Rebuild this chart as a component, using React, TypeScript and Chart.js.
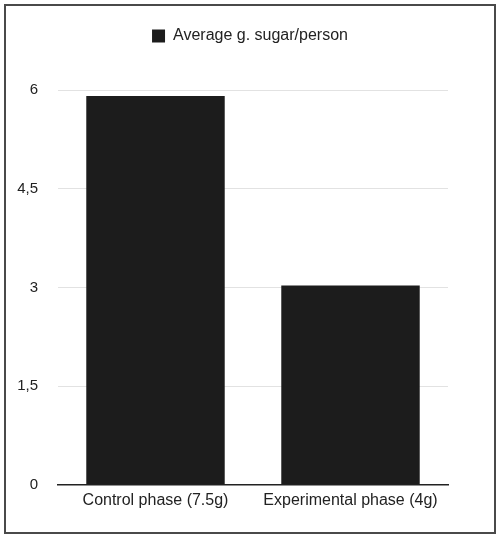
import React, { useEffect, useRef } from "react";
import { Chart, registerables } from "chart.js";

Chart.register(...registerables);

const categories = ["Control phase (7.5g)", "Experimental phase (4g)"];
const seriesLabel = "Average g. sugar/person";
const values = [5.91, 3.03];
const yTicks = [0, 1.5, 3, 4.5, 6];

const FONT = "'Liberation Sans', Arial, Helvetica, sans-serif";

export default function App() {
  const ref = useRef<HTMLCanvasElement | null>(null);

  useEffect(() => {
    if (!ref.current) return;
    const legendSpacer = {
      id: "legendSpacer",
      beforeInit(chart: any) {
        const orig = chart.legend.fit;
        chart.legend.fit = function () {
          orig.call(this);
          this.height += 36;
        };
      },
    };
    const chart = new Chart(ref.current, {
      type: "bar",
      data: {
        labels: categories,
        datasets: [
          {
            label: seriesLabel,
            data: values,
            backgroundColor: "#1c1c1c",
            borderWidth: 0,
            barPercentage: 0.71,
            categoryPercentage: 1,
          },
        ],
      },
      plugins: [legendSpacer],
      options: {
        animation: false,
        responsive: false,
        maintainAspectRatio: false,
        layout: { padding: { top: 14, right: 0, bottom: 16, left: 0 } },
        plugins: {
          tooltip: { enabled: false },
          legend: {
            position: "top",
            labels: {
              boxWidth: 13,
              boxHeight: 13,
              padding: 8,
              color: "#222",
              font: { family: FONT, size: 16 },
            },
          },
        },
        scales: {
          x: {
            grid: { display: false, drawTicks: false },
            border: { display: true, color: "#222", width: 1.5 },
            ticks: {
              color: "#222",
              padding: 6,
              font: { family: FONT, size: 16 },
              maxRotation: 0,
            },
          },
          y: {
            min: 0,
            max: 6,
            afterBuildTicks(scale: any) {
              scale.ticks = yTicks.map((v) => ({ value: v }));
            },
            afterFit(scale: any) {
              scale.width = 52;
            },
            grid: { color: "#e2e2e2", drawTicks: false, lineWidth: 1 },
            border: { display: false },
            ticks: {
              color: "#222",
              padding: 20,
              font: { family: FONT, size: 15 },
              callback: (v: any) => String(v).replace(".", ","),
            },
          },
          yRight: {
            position: "right",
            min: 0,
            max: 6,
            afterFit(scale: any) {
              scale.width = 46;
            },
            grid: { display: false, drawTicks: false },
            border: { display: false },
            ticks: { display: false },
          },
        },
      },
    });
    return () => chart.destroy();
  }, []);

  return (
    <div
      style={{
        position: "absolute",
        left: 4,
        top: 4,
        width: 488,
        height: 526,
        border: "2px solid #4a4a4a",
        background: "#fff",
      }}
    >
      <canvas ref={ref} width={488} height={526} style={{ display: "block", width: 488, height: 526 }} />
    </div>
  );
}
